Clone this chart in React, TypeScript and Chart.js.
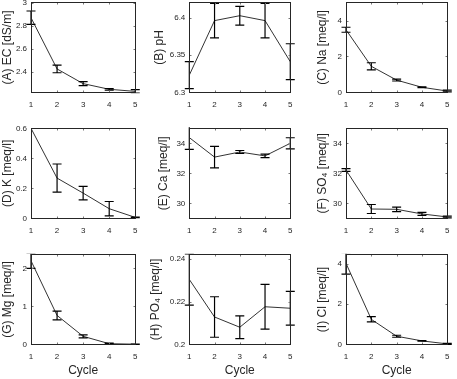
import React, { useEffect, useRef } from 'react';
import { Chart, registerables } from 'chart.js';

Chart.register(...registerables);

// ---------------- data ----------------
const CYCLES = [1, 2, 3, 4, 5];
const CYCLE_TICKS = [1, 2, 3, 4, 5];

const EC_MEAN = [2.87, 2.427, 2.3, 2.251, 2.233];
const EC_ERR = [0.058, 0.033, 0.017, 0.007, 0.016];
const EC_TICKS = [2.4, 2.6, 2.8, 3];

const PH_MEAN = [6.323, 6.396, 6.4026, 6.396, 6.341];
const PH_ERR = [0.018, 0.023, 0.0125, 0.023, 0.024];
const PH_TICKS = [6.3, 6.35, 6.4];

const NA_MEAN = [3.49, 1.45, 0.68, 0.28, 0.07];
const NA_ERR = [0.14, 0.2, 0.05, 0.025, 0.05];
const NA_TICKS = [0, 2, 4];

const K_MEAN = [0.6, 0.268, 0.168, 0.064, 0.006];
const K_ERR = [0, 0.094, 0.045, 0.048, 0.002];
const K_TICKS = [0, 0.2, 0.4, 0.6];

const CA_MEAN = [34.38, 33.08, 33.42, 33.16, 34.0];
const CA_ERR = [0.78, 0.72, 0.1, 0.12, 0.37];
const CA_TICKS = [30, 32, 34];

const SO4_MEAN = [32.22, 29.62, 29.6, 29.29, 29.09];
const SO4_ERR = [0.09, 0.3, 0.15, 0.1, 0.06];
const SO4_TICKS = [30, 32, 34];

const MG_MEAN = [2.2, 0.76, 0.21, 0.016, 0.003];
const MG_ERR = [0.2, 0.115, 0.04, 0.015, 0.004];
const MG_TICKS = [0, 1, 2];

const PO4_MEAN = [0.2304, 0.2128, 0.208, 0.2176, 0.2169];
const PO4_ERR = [0.012, 0.0095, 0.0053, 0.0105, 0.0079];
const PO4_TICKS = [0.2, 0.22, 0.24];

const CL_MEAN = [4.02, 1.24, 0.4, 0.17, 0.02];
const CL_ERR = [0.53, 0.13, 0.05, 0.01, 0.03];
const CL_TICKS = [0, 2, 4];

// ---------------- layout / style ----------------
const INK = '#262626';
const FONT = "'Liberation Sans', Arial, Helvetica, sans-serif";

type Panel = {
  title: string;
  mean: number[];
  err: number[];
  ticks: number[];
  min: number;
  max: number;
  col: number;
  row: number;
  titleX: number;
};

const PANELS: Panel[] = [
  { title: '(A) EC [dS/m]', mean: EC_MEAN, err: EC_ERR, ticks: EC_TICKS, min: 2.225, max: 3, col: 0, row: 0, titleX: 6.8 },
  { title: '(B) pH', mean: PH_MEAN, err: PH_ERR, ticks: PH_TICKS, min: 6.3, max: 6.42, col: 1, row: 0, titleX: 159.5 },
  { title: '(C) Na [meq/l]', mean: NA_MEAN, err: NA_ERR, ticks: NA_TICKS, min: 0, max: 5, col: 2, row: 0, titleX: 322.8 },
  { title: '(D) K [meq/l]', mean: K_MEAN, err: K_ERR, ticks: K_TICKS, min: 0, max: 0.6, col: 0, row: 1, titleX: 7.5 },
  { title: '(E) Ca [meq/l]', mean: CA_MEAN, err: CA_ERR, ticks: CA_TICKS, min: 29, max: 35, col: 1, row: 1, titleX: 164 },
  { title: '(F) SO\u2084 [meq/l]', mean: SO4_MEAN, err: SO4_ERR, ticks: SO4_TICKS, min: 29, max: 35, col: 2, row: 1, titleX: 322.8 },
  { title: '(G) Mg [meq/l]', mean: MG_MEAN, err: MG_ERR, ticks: MG_TICKS, min: 0, max: 2.36, col: 0, row: 2, titleX: 7.5 },
  { title: '(H) PO\u2084 [meq/l]', mean: PO4_MEAN, err: PO4_ERR, ticks: PO4_TICKS, min: 0.2, max: 0.242, col: 1, row: 2, titleX: 156 },
  { title: '(I) Cl [meq/l]', mean: CL_MEAN, err: CL_ERR, ticks: CL_TICKS, min: 0, max: 4.45, col: 2, row: 2, titleX: 322.5 },
];

const COLS = [
  { left: 0, width: 145, boxL: 31, boxR: 137 },
  { left: 145, width: 155, boxL: 189.3, boxR: 294.5 },
  { left: 300, width: 157, boxL: 346, boxR: 451.7 },
];
const ROWS = [
  { top: -10, height: 128, boxT: 2.7, boxB: 92.3 },
  { top: 118, height: 125, boxT: 128.3, boxB: 218.3 },
  { top: 243, height: 136, boxT: 254.7, boxB: 344.3 },
];

function PanelChart({ p }: { p: Panel }) {
  const ref = useRef<HTMLCanvasElement>(null);
  const col = COLS[p.col];
  const row = ROWS[p.row];

  useEffect(() => {
    const canvas = ref.current;
    if (!canvas) return;
    const yW = col.boxL - col.left;
    const padR = col.left + col.width - col.boxR;
    const padT = row.boxT - row.top;
    const xH = row.top + row.height - row.boxB;
    const titleLine = 12 * 1.2;
    const titlePad = Math.max(0, p.titleX - col.left - titleLine / 2);
    const showCycle = p.row === 2;

    const errPlugin = {
      id: 'errbars' + p.col + p.row,
      afterDatasetsDraw(chart: any) {
        const { ctx, chartArea: a, scales } = chart;
        const xs = scales.x;
        const ys = scales.y;
        ctx.save();
        ctx.beginPath();
        ctx.rect(a.left - 12, a.top - 1, a.right - a.left + 24, a.bottom - a.top + 2);
        ctx.clip();
        ctx.strokeStyle = '#000';
        ctx.lineWidth = 1.2;
        CYCLES.forEach((c, i) => {
          const e = p.err[i];
          if (!e) return;
          const px = xs.getPixelForValue(c);
          const yt = ys.getPixelForValue(p.mean[i] + e);
          const yb = ys.getPixelForValue(p.mean[i] - e);
          ctx.beginPath();
          ctx.moveTo(px, yt);
          ctx.lineTo(px, yb);
          ctx.moveTo(px - 4.5, yt);
          ctx.lineTo(px + 4.5, yt);
          ctx.moveTo(px - 4.5, yb);
          ctx.lineTo(px + 4.5, yb);
          ctx.stroke();
        });
        ctx.restore();
      },
    };

    const boxPlugin = {
      id: 'box' + p.col + p.row,
      afterDraw(chart: any) {
        const { ctx, chartArea: a, scales } = chart;
        const l = Math.floor(a.left) + 0.5;
        const r = Math.floor(a.right) + 0.5;
        const t = Math.floor(a.top) + 0.5;
        const b = Math.floor(a.bottom) + 0.5;
        ctx.save();
        ctx.strokeStyle = '#777';
        ctx.lineWidth = 1;
        ctx.beginPath();
        scales.x.ticks.forEach((tk: any) => {
          const px = Math.round(scales.x.getPixelForValue(tk.value)) + 0.5;
          ctx.moveTo(px, b);
          ctx.lineTo(px, b - 2);
          ctx.moveTo(px, t);
          ctx.lineTo(px, t + 2);
        });
        scales.y.ticks.forEach((tk: any) => {
          const py = Math.round(scales.y.getPixelForValue(tk.value)) + 0.5;
          ctx.moveTo(l, py);
          ctx.lineTo(l + 2, py);
          ctx.moveTo(r, py);
          ctx.lineTo(r - 2, py);
        });
        ctx.stroke();
        ctx.strokeStyle = INK;
        ctx.lineWidth = 1;
        ctx.strokeRect(l, t, r - l, b - t);
        ctx.restore();
      },
    };

    const chart = new Chart(canvas, {
      type: 'line',
      data: {
        datasets: [
          {
            data: CYCLES.map((x, i) => ({ x, y: p.mean[i] })),
            borderColor: '#333',
            borderWidth: 1,
            pointRadius: 0,
            fill: false,
            tension: 0,
          },
        ],
      },
      options: {
        animation: false,
        responsive: false,
        maintainAspectRatio: false,
        devicePixelRatio: 1,
        events: [],
        layout: { padding: { left: 0, right: padR, top: padT, bottom: 0 } },
        plugins: { legend: { display: false }, tooltip: { enabled: false }, title: { display: false } },
        scales: {
          x: {
            type: 'linear',
            min: 1,
            max: 5,
            afterBuildTicks: (s: any) => {
              s.ticks = CYCLE_TICKS.map((v) => ({ value: v }));
            },
            afterFit: (s: any) => {
              s.height = xH;
            },
            grid: { display: false, drawTicks: false },
            border: { display: false },
            ticks: {
              autoSkip: false,
              maxRotation: 0,
              padding: 7.5,
              color: INK,
              font: { family: FONT, size: 8 },
              callback: (v: any) => String(v),
            },
            title: {
              display: showCycle,
              text: 'Cycle',
              color: INK,
              font: { family: FONT, size: 12 },
              padding: { top: 0, bottom: 0.8 },
            },
          },
          y: {
            type: 'linear',
            min: p.min,
            max: p.max,
            afterBuildTicks: (s: any) => {
              s.ticks = p.ticks.map((v) => ({ value: v }));
            },
            afterFit: (s: any) => {
              s.width = yW;
            },
            grid: { display: false, drawTicks: false },
            border: { display: false },
            ticks: {
              autoSkip: false,
              padding: 4,
              color: INK,
              font: { family: FONT, size: 8 },
              callback: (v: any) => String(v),
            },
            title: {
              display: true,
              text: p.title,
              color: INK,
              font: { family: FONT, size: 12 },
              padding: { top: titlePad, bottom: 0 },
            },
          },
        },
      } as any,
      plugins: [errPlugin, boxPlugin],
    });
    return () => chart.destroy();
  }, [p]);

  return (
    <canvas
      ref={ref}
      width={col.width}
      height={row.height}
      style={{ position: 'absolute', left: col.left, top: row.top, width: col.width, height: row.height }}
    />
  );
}

export default function App() {
  return (
    <div
      style={{
        position: 'fixed',
        left: 0,
        top: 0,
        width: 457,
        height: 379,
        background: '#fff',
        overflow: 'hidden',
      }}
    >
      {PANELS.map((p, i) => (
        <PanelChart key={i} p={p} />
      ))}
    </div>
  );
}
